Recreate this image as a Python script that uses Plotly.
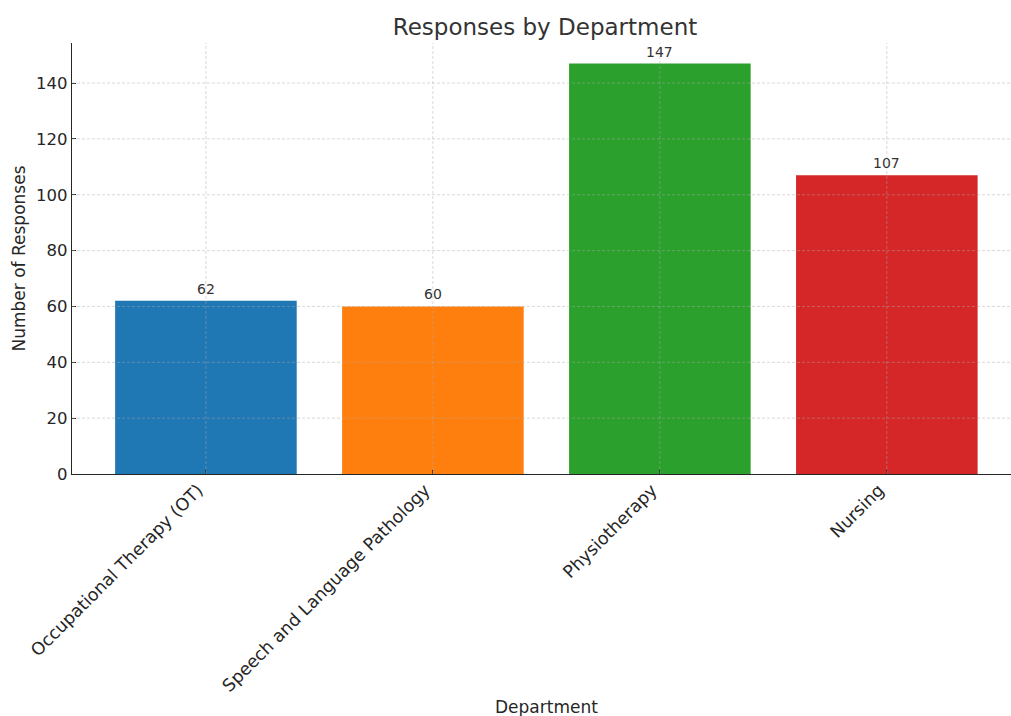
import plotly.graph_objects as go

departments = ["Occupational Therapy (OT)", "Speech and Language Pathology", "Physiotherapy", "Nursing"]
responses = [62, 60, 147, 107]
colors = ["#1f77b4", "#ff7f0e", "#2ca02c", "#d62728"]
y_ticks = [0, 20, 40, 60, 80, 100, 120, 140]

FONT = "DejaVu Sans, sans-serif"
TXT = "#262626"
W, H = 1011, 716
L, T, B = 72, 43, 242
PW = W - L

fig = go.Figure()
fig.add_trace(go.Bar(
    x=list(range(len(departments))), y=responses,
    marker=dict(color=colors, line=dict(width=0)),
    width=0.8, showlegend=False, hoverinfo="skip",
))

for i, v in enumerate(responses):
    fig.add_annotation(x=i, y=v, text=str(v), showarrow=False, yanchor="bottom",
                       yshift=2, font=dict(family=FONT, size=14, color="#333333"))

grid = dict(color="rgba(170,170,170,0.45)", width=1, dash="3px,2px")
for t in y_ticks[1:]:
    fig.add_shape(type="line", xref="paper", yref="y", x0=0, x1=1, y0=t, y1=t,
                  line=grid, layer="above")
for i in range(len(departments)):
    fig.add_shape(type="line", xref="x", yref="paper", x0=i, x1=i, y0=0, y1=1,
                  line=grid, layer="above")

# axis titles
fig.add_annotation(xref="paper", yref="paper", x=(546 - L) / PW, y=-(707 - (H - B)) / (H - T - B),
                   text="Department", showarrow=False, xanchor="center", yanchor="middle",
                   font=dict(family=FONT, size=17, color=TXT))
fig.add_annotation(xref="paper", yref="paper", x=(18 - L) / PW, y=0.5,
                   text="Number of Responses", showarrow=False, textangle=-90,
                   xanchor="center", yanchor="middle",
                   font=dict(family=FONT, size=17, color=TXT))

fig.update_layout(
    width=W, height=H,
    margin=dict(l=L, r=0, t=T, b=B),
    paper_bgcolor="white", plot_bgcolor="white",
    font=dict(family=FONT, color=TXT, size=16),
    title=dict(text="Responses by Department", x=545 / W, xanchor="center",
               y=1 - 27 / H, yanchor="middle", xref="container", yref="container",
               font=dict(family=FONT, size=23, color="#333333")),
)
fig.update_xaxes(
    range=[-0.59, 3.547], tickmode="array", tickvals=list(range(len(departments))),
    ticktext=departments, tickangle=-45, tickfont=dict(family=FONT, size=17.4, color=TXT),
    ticklabelshift=-8, ticklabelstandoff=-2,
    showgrid=False, zeroline=False, showline=True, linecolor=TXT, linewidth=1.3,
    ticks="inside", ticklen=4, tickcolor=TXT,
)
fig.update_yaxes(
    range=[0, 154.35], tickmode="array", tickvals=y_ticks,
    tickfont=dict(family=FONT, size=16.5, color=TXT), showgrid=False, zeroline=False,
    showline=True, linecolor=TXT, linewidth=1.3,
    ticks="inside", ticklen=4, tickcolor=TXT,
)

fig.write_html("out.html")
